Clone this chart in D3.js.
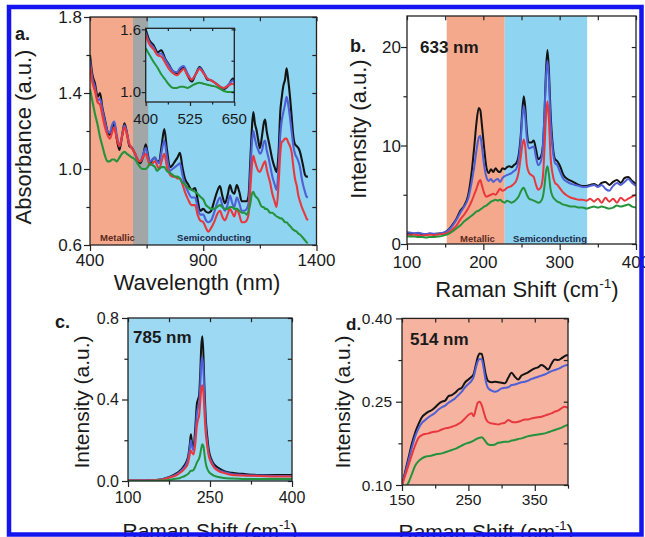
<!DOCTYPE html>
<html><head><meta charset="utf-8">
<script src="https://cdn.jsdelivr.net/npm/d3@7"></script>
<style>
body{margin:0;background:#fff;}
svg text{font-family:"Liberation Sans",Arial,Helvetica,sans-serif;fill:#1a1a1a;}
</style></head><body>
<svg id="chart" width="645" height="537"></svg>
<script>
// ---------- Panel a: absorbance ----------
const absWl = [
400,410,422,434,444,
455,466,477,488,497,
507,518,530,541,552,
563,574,586,599,610,
621,633,646,655,665,
676,687,696,705,716,
728,740,753,764,775,
786,797,808,819,833,
849,864,875,886,900,
912,922,935,948,961,
974,984,996,1007,1018,
1028,1037,1048,1059,1070,
1081,1092,1100,1108,1115,
1121,1128,1136,1143,1150,
1160,1167,1173,1180,1188,
1195,1205,1215,1224,1233,
1240,1246,1254,1261,1268,
1275,1283,1290,1298,1305,
1313,1320,1327,1335,1342,
1349,1356,1362];
const absBlack = [
1.60,1.50,1.45,1.38,1.40,
1.32,1.26,1.20,1.18,1.21,
1.24,1.16,1.10,1.17,1.24,
1.19,1.12,1.11,1.08,1.05,
1.03,1.06,1.13,1.08,1.03,
1.05,1.06,1.04,1.04,1.12,
1.21,1.10,1.01,1.02,1.04,
1.06,1.085,1.01,0.95,0.92,
0.89,0.90,0.84,0.78,0.79,
0.775,0.77,0.78,0.83,0.88,
0.91,0.86,0.82,0.86,0.915,
0.88,0.87,0.915,0.88,0.83,
0.83,0.83,0.86,1.05,1.22,
1.30,1.24,1.20,1.15,1.11,
1.18,1.24,1.26,1.20,1.15,
1.11,1.05,1.01,0.985,1.10,
1.30,1.37,1.44,1.47,1.53,
1.47,1.38,1.28,1.17,1.13,
1.12,1.11,1.09,1.05,1.01,
0.97,0.96,0.96];
const absBlue = [
1.57,1.48,1.43,1.36,1.37,
1.31,1.25,1.20,1.19,1.23,
1.25,1.18,1.12,1.17,1.23,
1.19,1.13,1.11,1.08,1.05,
1.04,1.07,1.11,1.07,1.04,
1.05,1.06,1.04,1.03,1.09,
1.15,1.06,0.99,1.00,1.01,
1.02,1.03,0.97,0.92,0.88,
0.85,0.85,0.80,0.76,0.76,
0.73,0.72,0.73,0.77,0.82,
0.85,0.81,0.78,0.81,0.86,
0.82,0.80,0.85,0.82,0.78,
0.78,0.79,0.82,0.98,1.14,
1.20,1.16,1.12,1.10,1.08,
1.10,1.14,1.15,1.10,1.06,
1.02,0.96,0.92,0.89,1.02,
1.18,1.25,1.30,1.34,1.38,
1.34,1.27,1.20,1.12,1.08,
1.06,1.04,1.01,0.95,0.91,
0.88,0.855,0.85];
const absRed = [
1.55,1.46,1.41,1.35,1.34,
1.28,1.22,1.18,1.16,1.19,
1.22,1.16,1.12,1.17,1.22,
1.18,1.13,1.11,1.08,1.05,
1.04,1.06,1.08,1.05,1.02,
1.03,1.04,1.02,1.00,1.04,
1.08,1.01,0.97,0.96,0.96,
0.95,0.95,0.92,0.88,0.84,
0.81,0.81,0.76,0.73,0.72,
0.69,0.67,0.69,0.72,0.76,
0.78,0.75,0.73,0.76,0.79,
0.77,0.75,0.79,0.76,0.72,
0.72,0.73,0.76,0.90,1.02,
1.07,1.04,1.01,0.99,0.985,
1.01,1.03,1.04,1.00,0.96,
0.93,0.87,0.83,0.80,0.93,
1.08,1.14,1.15,1.16,1.16,
1.14,1.12,1.09,1.01,0.95,
0.91,0.86,0.83,0.80,0.78,
0.76,0.74,0.73];
const absGreen = [
1.42,1.36,1.29,1.23,1.17,
1.12,1.07,1.04,1.04,1.05,
1.05,1.04,1.06,1.08,1.09,
1.08,1.07,1.06,1.05,1.03,
1.01,1.00,1.00,1.01,1.03,
1.02,1.01,0.99,1.00,1.01,
1.01,0.99,0.98,0.97,0.96,
0.96,0.95,0.93,0.92,0.90,
0.89,0.88,0.87,0.855,0.84,
0.81,0.80,0.79,0.79,0.80,
0.81,0.80,0.79,0.79,0.80,
0.80,0.79,0.79,0.78,0.77,
0.77,0.76,0.78,0.82,0.87,
0.88,0.86,0.85,0.84,0.82,
0.80,0.80,0.79,0.79,0.78,
0.77,0.77,0.76,0.75,0.745,
0.74,0.74,0.73,0.72,0.72,
0.71,0.70,0.69,0.68,0.675,
0.67,0.66,0.655,0.645,0.635,
0.625,0.615,0.61];
const absXTicks = [400, 900, 1400];
const absXMinor = [650, 1150];
const absYTicks = [0.6, 1.0, 1.4, 1.8];
const absYMinor = [0.8, 1.2, 1.6];
const insetXTicks = [400, 525, 650];
const insetXMinor = [462.5, 587.5];
const insetYTicks = [1.0, 1.6];
const insetYMinor = [1.3];

// ---------- Panel b: 633 nm Raman ----------
const ramanB = [
100,105,110,115,120,
125,130,135,140,145,
150,155,160,165,170,
175,180,185,188,191,
194,196,198,201,204,
207,210,213,216,219,
222,225,228,231,234,
237,240,243,246,249,
251,253,255,257,260,
263,266,269,272,275,
278,280,282,284,286,
288,291,294,297,300,
305,310,315,320,325,
330,335,340,345,350,
355,360,365,370,375,
380,385,390,395,400];
const bBlack = [
1.1,1.0,1.05,1.1,0.95,
1.0,1.05,1.0,1.05,1.1,
1.2,1.5,2.0,2.6,3.4,
3.9,4.9,7.5,9.8,12.3,
13.8,13.6,12.2,9.8,7.8,
7.2,7.6,7.3,7.7,7.4,
7.3,7.7,7.6,7.8,7.9,
7.8,8.0,8.2,8.9,11.0,
13.5,15.0,13.8,11.5,10.3,
10.3,10.5,9.6,8.6,8.8,
10.0,13.0,17.5,19.7,17.5,
13.5,10.0,8.6,8.4,8.0,
7.0,6.6,6.4,6.2,6.0,
5.9,5.9,6.0,6.1,5.9,
6.2,6.3,6.0,6.3,6.5,
6.2,6.7,6.8,6.4,6.1];
const bBlue = [
1.2,1.15,1.1,1.15,1.05,
1.0,1.1,1.05,1.05,1.1,
1.2,1.45,1.9,2.5,3.2,
3.8,4.6,6.4,7.8,9.5,
10.8,11.0,10.0,8.0,6.8,
6.4,6.6,6.3,6.5,6.6,
6.3,6.7,6.9,7.0,7.1,
7.2,7.4,7.6,8.4,10.5,
12.8,14.0,12.8,10.8,9.7,
9.8,9.9,8.8,8.0,8.3,
9.8,13.0,16.8,18.6,16.5,
12.5,9.5,8.2,8.0,7.4,
6.6,6.3,6.1,6.0,5.9,
5.8,5.8,5.9,6.0,5.8,
6.0,5.6,5.4,5.9,6.2,
6.0,6.3,6.6,6.2,5.9];
const bRed = [
0.95,0.9,0.95,0.9,0.85,
0.9,0.95,0.9,0.95,1.0,
1.05,1.2,1.5,1.9,2.5,
3.0,3.6,4.4,5.0,5.6,
6.3,6.5,6.0,5.2,4.8,
4.9,5.0,5.1,5.0,5.3,
5.6,5.4,5.5,5.7,5.8,
5.9,6.1,6.4,7.2,8.8,
10.0,10.6,9.8,8.0,7.2,
7.0,6.8,6.0,5.5,5.7,
6.8,9.5,12.8,14.5,12.5,
9.0,7.0,6.2,6.0,5.7,
5.2,4.9,4.7,4.6,4.5,
4.5,4.4,4.6,4.3,4.6,
4.2,4.7,4.3,4.6,4.2,
4.7,4.4,4.6,4.8,5.0];
const bGreen = [
0.8,0.75,0.75,0.7,0.7,
0.65,0.7,0.7,0.75,0.8,
0.9,1.05,1.3,1.6,1.9,
2.3,2.6,2.9,3.1,3.3,
3.4,3.5,3.6,3.8,3.9,
4.1,4.3,4.4,4.5,4.4,
4.5,4.3,4.2,4.4,4.3,
4.2,4.3,4.5,4.8,5.3,
5.6,5.7,5.4,5.0,4.6,
4.5,4.4,4.3,4.2,4.3,
4.8,5.8,7.3,7.9,7.0,
5.6,4.8,4.5,4.3,4.2,
4.0,3.9,3.8,3.8,3.7,
3.7,3.6,3.7,3.8,3.7,
3.8,3.7,3.6,3.7,3.9,
3.8,3.9,4.0,3.8,3.7];
const bXTicks = [100, 200, 300, 400];
const bXMinor = [150, 250, 350];
const bYTicks = [0, 10, 20];
const bYMinor = [5, 15];

// ---------- Panel c: 785 nm Raman ----------
const ramanC = [
100,120,140,160,170,
180,190,195,200,205,
210,213,215,217,220,
223,226,228,230,232,
234,236,238,240,242,
245,248,252,258,265,
275,290,310,340,370,
400];
const cBlack = [
0.003,0.003,0.004,0.008,0.015,
0.025,0.04,0.05,0.065,0.085,
0.12,0.18,0.23,0.19,0.17,
0.26,0.38,0.40,0.42,0.52,
0.66,0.71,0.62,0.45,0.32,
0.22,0.15,0.11,0.08,0.065,
0.05,0.04,0.035,0.03,0.03,
0.03];
const cBlue = [
0.003,0.003,0.004,0.008,0.014,
0.022,0.035,0.045,0.058,0.075,
0.11,0.16,0.20,0.17,0.15,
0.22,0.33,0.36,0.38,0.46,
0.57,0.61,0.54,0.40,0.28,
0.19,0.13,0.10,0.07,0.055,
0.045,0.035,0.03,0.027,0.025,
0.025];
const cRed = [
0.002,0.002,0.003,0.006,0.012,
0.02,0.03,0.04,0.05,0.065,
0.09,0.13,0.15,0.14,0.13,
0.18,0.27,0.30,0.32,0.38,
0.45,0.47,0.43,0.33,0.24,
0.17,0.12,0.09,0.065,0.05,
0.04,0.03,0.027,0.025,0.022,
0.022];
const cGreen = [
0.0,0.0,0.0,0.002,0.004,
0.007,0.012,0.015,0.02,0.027,
0.035,0.045,0.05,0.05,0.055,
0.07,0.09,0.10,0.11,0.13,
0.16,0.18,0.17,0.13,0.09,
0.06,0.045,0.035,0.025,0.02,
0.015,0.012,0.01,0.01,0.01,
0.01];
const cXTicks = [100, 250, 400];
const cXMinor = [175, 325];
const cYTicks = [0.0, 0.4, 0.8];
const cYMinor = [0.2, 0.6];

// ---------- Panel d: 514 nm Raman ----------
const ramanD = [
150,155,160,165,170,175,180,185,190,195,
200,205,210,215,220,225,230,235,240,245,
250,255,258,261,264,267,270,273,276,280,
285,290,295,300,305,310,315,320,325,330,
335,340,345,350,355,360,365,370,375,380,
385,390,395,400];
const dBlack = [
0.10,0.125,0.15,0.175,0.195,0.21,0.222,0.228,0.232,0.235,
0.24,0.246,0.25,0.252,0.26,0.262,0.266,0.272,0.275,0.285,
0.29,0.295,0.30,0.315,0.33,0.337,0.336,0.32,0.30,0.287,
0.285,0.286,0.285,0.284,0.283,0.293,0.302,0.295,0.29,0.297,
0.30,0.303,0.307,0.31,0.312,0.316,0.313,0.308,0.318,0.326,
0.325,0.328,0.332,0.334];
const dBlue = [
0.10,0.122,0.145,0.168,0.188,0.202,0.212,0.217,0.222,0.226,
0.23,0.236,0.24,0.243,0.248,0.252,0.256,0.262,0.268,0.276,
0.282,0.288,0.295,0.31,0.322,0.327,0.326,0.31,0.288,0.274,
0.27,0.268,0.27,0.274,0.275,0.276,0.28,0.281,0.283,0.285,
0.286,0.288,0.291,0.293,0.295,0.297,0.299,0.302,0.305,0.307,
0.309,0.312,0.315,0.316];
const dRed = [
0.10,0.118,0.136,0.155,0.172,0.185,0.19,0.192,0.193,0.195,
0.196,0.197,0.20,0.202,0.203,0.205,0.207,0.21,0.214,0.22,
0.226,0.229,0.224,0.236,0.248,0.25,0.244,0.232,0.22,0.213,
0.211,0.21,0.209,0.211,0.212,0.217,0.214,0.213,0.214,0.216,
0.218,0.218,0.22,0.221,0.222,0.223,0.225,0.227,0.229,0.232,
0.234,0.238,0.241,0.239];
const dGreen = [
0.085,0.094,0.105,0.12,0.135,0.143,0.148,0.151,0.152,0.153,
0.155,0.156,0.157,0.159,0.161,0.163,0.165,0.168,0.171,0.174,
0.176,0.178,0.18,0.182,0.184,0.185,0.186,0.183,0.178,0.173,
0.172,0.173,0.176,0.177,0.178,0.178,0.18,0.181,0.183,0.184,
0.186,0.188,0.189,0.19,0.191,0.192,0.193,0.195,0.197,0.199,
0.201,0.203,0.206,0.208];
const dXTicks = [150, 250, 350];
const dXMinor = [200, 300, 400];
const dYTicks = [0.10, 0.25, 0.40];
const dYMinor = [0.175, 0.325];

// ---------- colours ----------
const C_BLACK = "#141414", C_BLUE = "#4f5fd6", C_RED = "#e8383d", C_GREEN = "#24933c";
const ORANGE = "#f4a88c", BLUE_BG = "#8fd4f0", GRAY = "#a3a6a7";

const svg = d3.select("#chart");
const defs = svg.append("defs");
svg.append("rect").attr("width",645).attr("height",537).attr("fill","#fff");

function panel(o) {
  const x = d3.scaleLinear().domain(o.xd).range(o.xr);
  const y = d3.scaleLinear().domain(o.yd).range(o.yr);
  const L = o.xr[0], R = o.xr[1], B = o.yr[0], T = o.yr[1];
  const g = svg.append("g");
  g.append("rect").attr("x",L).attr("y",T).attr("width",R-L).attr("height",B-T).attr("fill",o.bg);
  (o.bands||[]).forEach(b => {
    g.append("rect").attr("x",x(b[0])).attr("y",T).attr("width",x(b[1])-x(b[0]))
      .attr("height",B-T).attr("fill",b[2]);
  });
  const cid = "clip-" + o.id;
  defs.append("clipPath").attr("id",cid).append("rect")
    .attr("x",L).attr("y",T).attr("width",R-L).attr("height",B-T);
  const lg = g.append("g").attr("clip-path",`url(#${cid})`);
  o.series.forEach(s => {
    const pts = o.xs.map((xv,i) => [xv, s.v[i]])
      .filter(p => p[1] != null && (o.xmax == null || p[0] <= o.xmax));
    lg.append("path")
      .attr("d", d3.line().x(d => x(d[0])).y(d => y(d[1])).curve(d3.curveMonotoneX)(pts))
      .attr("fill","none").attr("stroke",s.c).attr("stroke-width",o.lw || 2)
      .attr("stroke-linejoin","round");
  });
  const tk = o.tk || 6;
  const ax = (gen, tx, ty) => {
    const a = g.append("g").attr("transform",`translate(${tx},${ty})`).call(gen);
    a.select(".domain").remove();
    a.selectAll("text").remove();
    a.selectAll("line").attr("stroke","#222").attr("stroke-width",1.2);
  };
  ax(d3.axisBottom(x).tickValues(o.xMajor).tickSize(tk), 0, B);
  ax(d3.axisBottom(x).tickValues(o.xMinor).tickSize(tk*0.6), 0, B);
  ax(d3.axisTop(x).tickValues(o.xMajor.concat(o.xMinor)).tickSize(-tk*0.7), 0, T);
  ax(d3.axisLeft(y).tickValues(o.yMajor).tickSize(tk), L, 0);
  ax(d3.axisLeft(y).tickValues(o.yMinor).tickSize(tk*0.6), L, 0);
  ax(d3.axisRight(y).tickValues(o.yMajor.concat(o.yMinor)).tickSize(-tk*0.7), R, 0);
  g.append("rect").attr("x",L).attr("y",T).attr("width",R-L).attr("height",B-T)
    .attr("fill","none").attr("stroke","#222").attr("stroke-width",1.3);
  const fs = o.tickFs || 16;
  o.xMajor.forEach(v => {
    g.append("text").attr("x",x(v)).attr("y",o.xLabY).attr("text-anchor","middle")
      .attr("font-size",fs).text(o.xFmt(v));
  });
  o.yMajor.forEach(v => {
    g.append("text").attr("x",o.yLabX).attr("y",y(v)).attr("dy","0.36em").attr("text-anchor","end")
      .attr("font-size",fs).text(o.yFmt(v));
  });
  return {x, y, g};
}

function series4(b, bl, r, gr) {
  return [{v:b,c:C_BLACK},{v:bl,c:C_BLUE},{v:r,c:C_RED},{v:gr,c:C_GREEN}];
}

// Panel a
panel({
  id:"a", xd:[400,1400], xr:[90,316.5], yd:[0.6,1.8], yr:[245,17],
  bg:BLUE_BG, bands:[[400,590,ORANGE],[590,657,GRAY]],
  xs:absWl, series:series4(absBlack,absBlue,absRed,absGreen), lw:2.1,
  xMajor:absXTicks, xMinor:absXMinor, yMajor:absYTicks, yMinor:absYMinor,
  xLabY:266, yLabX:82, xFmt:d3.format("d"), yFmt:d3.format(".1f"), tickFs:17
});
// inset
panel({
  id:"ai", xd:[400,650], xr:[145.7,234.3], yd:[0.905,1.61], yr:[102,28.3],
  bg:"#9bd8f1", xs:absWl, xmax:665, series:series4(absBlack,absBlue,absRed,absGreen), lw:2,
  xMajor:insetXTicks, xMinor:insetXMinor, yMajor:insetYTicks, yMinor:insetYMinor, tk:4,
  xLabY:124, yLabX:141, xFmt:d3.format("d"), yFmt:d3.format(".1f"), tickFs:15
});
// Panel b
panel({
  id:"b", xd:[100,400], xr:[407,636], yd:[0,23.15], yr:[244,16],
  bg:"#ffffff", bands:[[152,228,ORANGE],[228,336,BLUE_BG]],
  xs:ramanB, series:series4(bBlack,bBlue,bRed,bGreen),
  xMajor:bXTicks, xMinor:bXMinor, yMajor:bYTicks, yMinor:bYMinor,
  xLabY:268, yLabX:401, xFmt:d3.format("d"), yFmt:d3.format("d"), tickFs:17
});
// Panel c
panel({
  id:"c", xd:[100,400], xr:[128,292], yd:[0,0.8], yr:[481,318],
  bg:"#9dd9f2",
  xs:ramanC, series:series4(cBlack,cBlue,cRed,cGreen),
  xMajor:cXTicks, xMinor:cXMinor, yMajor:cYTicks, yMinor:cYMinor,
  xLabY:503, yLabX:119, xFmt:d3.format("d"), yFmt:d3.format(".1f"), tickFs:16
});
// Panel d
panel({
  id:"d", xd:[150,400], xr:[402,568], yd:[0.10,0.40], yr:[485,318.4],
  bg:"#f5b3a0",
  xs:ramanD, series:series4(dBlack,dBlue,dRed,dGreen),
  xMajor:dXTicks, xMinor:dXMinor, yMajor:dYTicks, yMinor:dYMinor,
  xLabY:505, yLabX:392, xFmt:d3.format("d"), yFmt:d3.format(".2f"), tickFs:15.5
});

// ---------- texts ----------
function txt(x, y, s, size, opts={}) {
  const t = svg.append("text").attr("x",x).attr("y",y).attr("font-size",size)
    .attr("text-anchor",opts.anchor || "start").text(s);
  if (opts.bold) t.attr("font-weight","bold");
  if (opts.fill) t.style("fill", opts.fill);
  if (opts.rot) t.attr("transform",`rotate(-90,${x},${y})`);
  return t;
}
function raman(x, y, size) {
  const t = svg.append("text").attr("x",x).attr("y",y).attr("font-size",size).attr("text-anchor","middle");
  t.append("tspan").text("Raman Shift (cm");
  t.append("tspan").attr("dy",-size*0.42).attr("font-size",size*0.62).text("-1");
  t.append("tspan").attr("dy",size*0.42).text(")");
}
// panel letters
txt(15, 40, "a.", 18, {bold:true});
txt(350, 52, "b.", 18, {bold:true});
txt(55, 328, "c.", 18, {bold:true});
txt(346, 330, "d.", 17, {bold:true});
// laser labels
txt(420, 53, "633 nm", 17, {bold:true});
txt(133, 343, "785 nm", 17, {bold:true});
txt(410, 345, "514 nm", 17, {bold:true});
// region labels
txt(117.5, 241, "Metallic", 9.5, {bold:true, anchor:"middle", fill:"#5a2a1e"});
txt(214, 241, "Semiconducting", 9.5, {bold:true, anchor:"middle", fill:"#1c2b4a"});
txt(477.5, 242, "Metallic", 9.5, {bold:true, anchor:"middle", fill:"#5a2a1e"});
txt(550, 242, "Semiconducting", 9.5, {bold:true, anchor:"middle", fill:"#1c2b4a"});
// axis titles
txt(197, 290, "Wavelength (nm)", 22, {anchor:"middle"});
raman(527, 297, 22);
raman(210, 538, 21);
raman(486, 539, 21);
txt(31, 137, "Absorbance (a.u.)", 22, {anchor:"middle", rot:true});
txt(366, 129, "Intensity (a.u.)", 22, {anchor:"middle", rot:true});
txt(89, 402, "Intensity (a.u.)", 21, {anchor:"middle", rot:true});
txt(350, 402, "Intensity (a.u.)", 21, {anchor:"middle", rot:true});

// blue outer frame
svg.append("rect").attr("x",9).attr("y",7).attr("width",632.5).attr("height",527.5)
  .attr("fill","none").attr("stroke","#1414f0").attr("stroke-width",4.5);
</script>
</body></html>
